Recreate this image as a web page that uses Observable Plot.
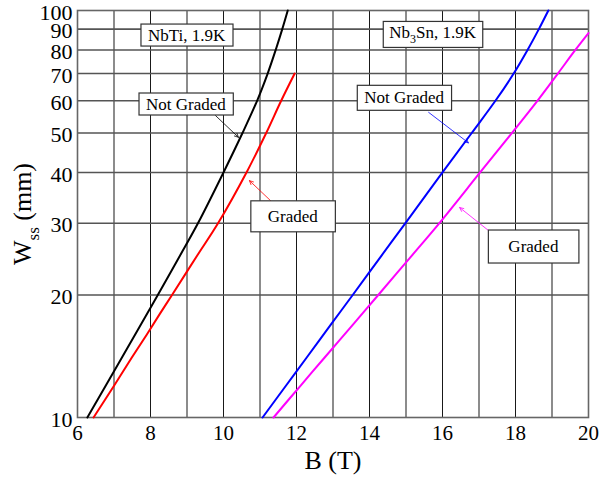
<!DOCTYPE html>
<html><head><meta charset="utf-8">
<script src="https://cdn.jsdelivr.net/npm/d3@7"></script>
<script src="https://cdn.jsdelivr.net/npm/@observablehq/plot@0.6"></script>
<style>body{margin:0;background:#fff} #chart{width:610px;height:485px}</style>
</head><body><div id="chart"></div>
<script>
// ---- data ----
const xTicks = [6, 8, 10, 12, 14, 16, 18, 20];
const yTicks = [10, 20, 30, 40, 50, 60, 70, 80, 90, 100];
const xGrid = [7, 8, 9, 10, 11, 12, 13, 14, 15, 16, 17, 18, 19];
const yGrid = [20, 30, 40, 50, 60, 70, 80, 90];

const nbtiNotGradedB = [6.27, 6.78, 7.21, 7.58, 7.91, 8.20, 8.81, 9.30, 10.0, 10.52, 10.92, 11.21, 11.43, 11.61, 11.76];
const nbtiNotGradedW = [10, 12, 14, 16, 18, 20, 25, 30, 40, 50, 60, 70, 80, 90, 100];
const nbtiGradedB = [6.44, 7.01, 7.48, 7.90, 8.26, 8.59, 9.28, 9.85, 10.63, 11.17, 11.58, 11.95];
const nbtiGradedW = [10, 12, 14, 16, 18, 20, 25, 30, 40, 50, 60, 70];
const nb3snNotGradedB = [11.07, 11.72, 12.27, 12.96, 13.54, 14.33, 14.98, 16.0, 16.8, 17.45, 17.95, 18.33, 18.64, 18.9];
const nb3snNotGradedW = [10, 12, 14, 17, 20, 25, 30, 40, 50, 60, 70, 80, 90, 100];
const nb3snGradedB = [11.37, 12.12, 12.76, 13.57, 14.24, 15.16, 15.91, 17.03, 17.9, 18.6, 19.16, 19.64, 20];
const nb3snGradedW = [10, 12, 14, 17, 20, 25, 30, 40, 50, 60, 70, 80, 88];

const annLabels = ["NbTi, 1.9K", "Not Graded", "Graded", "Nb3Sn, 1.9K", "Not Graded", "Graded"];
const annB = [8.99, 8.97, 11.9, 15.73, 14.95, 18.49];
const annW = [87, 58.9, 31.2, 88.3, 61, 26.3];

const arrowB1 = [9.78, 11.29, 15.62, 17.26];
const arrowW1 = [55.2, 34.1, 56.2, 28.8];
const arrowB2 = [10.41, 10.71, 16.71, 16.47];
const arrowW2 = [48.8, 38.2, 47.3, 32.8];

// ---- styles ----
const seriesColors = ["#000000", "#ff0000", "#0000ff", "#ff00ff"];
const arrowColors = ["#000000", "#ff0000", "#0000ff", "#ff00ff"];
const annPadX = [7, 7, 17, 6, 7, 20];
const annPadY = [1.5, 1.5, 6, 1.5, 3, 7];
const FONT = "'Liberation Serif', 'Times New Roman', serif";

const mk = (B, W) => B.map((b, i) => ({b, w: W[i]}));
const series = [
  mk(nbtiNotGradedB, nbtiNotGradedW),
  mk(nbtiGradedB, nbtiGradedW),
  mk(nb3snNotGradedB, nb3snNotGradedW),
  mk(nb3snGradedB, nb3snGradedW)
];
const anns = annLabels.map((t, i) => ({t, b: annB[i], w: annW[i], i}));
const arrows = arrowB1.map((b, i) => ({b1: b, w1: arrowW1[i], b2: arrowB2[i], w2: arrowW2[i], c: arrowColors[i]}));

const plot = Plot.plot({
  width: 610,
  height: 485,
  marginLeft: 77,
  marginRight: 22,
  marginTop: 10,
  marginBottom: 68,
  style: {fontFamily: FONT, fontSize: "20px", color: "#000", background: "#fff"},
  x: {domain: [6, 20]},
  y: {type: "log", domain: [10, 100]},
  marks: [
    Plot.ruleX(xGrid, {stroke: "#000", strokeWidth: 1, strokeOpacity: 0.9}),
    Plot.ruleY(yGrid, {stroke: "#555", strokeWidth: 1.6}),
    Plot.frame({stroke: "#666", strokeWidth: 1.6}),
    ...series.map((s, i) => Plot.line(s, {x: "b", y: "w", stroke: seriesColors[i], strokeWidth: 2, curve: "catmull-rom"})),
    Plot.arrow(arrows, {x1: "b1", y1: "w1", x2: "b2", y2: "w2", stroke: "c", strokeWidth: 0.8, headLength: 8, headAngle: 50}),
    Plot.text(anns, {x: "b", y: "w", text: "t", fontSize: 17, fill: "#000", className: "ann"}),
    Plot.axisX(xTicks, {tickSize: 0, tickPadding: 8, fontSize: 21, label: null}),
    Plot.axisY(yTicks, {tickSize: 0, tickPadding: 5, fontSize: 22, dy: 2, label: null, tickFormat: d => String(d)}),
    Plot.text(["B (T)"], {frameAnchor: "bottom", dy: 51, fontSize: 26}),
    Plot.text(["Wss (mm)"], {frameAnchor: "left", dx: -55, rotate: -90, fontSize: 26, textAnchor: "middle", className: "ylab"})
  ]
});
document.getElementById("chart").appendChild(plot);

const svg = d3.select(plot);
// y label subscript
svg.selectAll("g.ylab text").each(function() {
  const t = d3.select(this);
  t.text(null);
  t.append("tspan").text("W");
  t.append("tspan").attr("dy", 8).attr("font-size", 17).text("ss");
  t.append("tspan").attr("dy", -8).text(" (mm)");
});
// Nb3Sn subscript
svg.selectAll("g.ann text").each(function() {
  const t = d3.select(this);
  const label = t.text();
  if (label.startsWith("Nb3Sn")) {
    t.text(null);
    t.append("tspan").text("Nb");
    t.append("tspan").attr("dy", 5).attr("font-size", 12).text("3");
    t.append("tspan").attr("dy", -5).text("Sn, 1.9K");
  }
});
// annotation boxes
svg.selectAll("g.ann text").each(function(d, k) {
  const bb = this.getBBox();
  const px = annPadX[k], py = annPadY[k];
  const r = d3.select(this.parentNode).insert("rect", () => this)
    .attr("x", bb.x - px).attr("y", bb.y - py)
    .attr("width", bb.width + 2 * px).attr("height", bb.height + 2 * py)
    .attr("fill", "#fff").attr("stroke", "#333").attr("stroke-width", 1.2);
  const tr = this.getAttribute("transform");
  if (tr) r.attr("transform", tr);
});
</script>
</body></html>
